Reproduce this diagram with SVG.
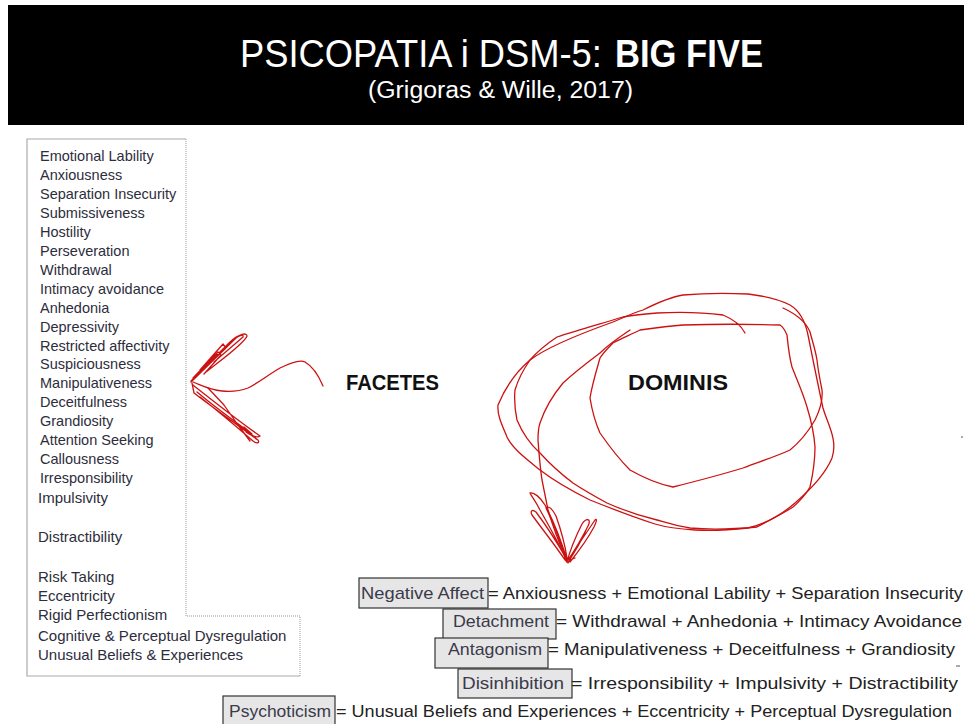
<svg xmlns="http://www.w3.org/2000/svg" width="964" height="724" viewBox="0 0 964 724">
  <style>
    .title { font-family: "Liberation Sans", "DejaVu Sans", sans-serif; fill: #ffffff; }
    .facet { font-family: "Liberation Sans", "DejaVu Sans", sans-serif; font-size: 14.5px; fill: #2d2d3c; }
    .facet2 { font-family: "Liberation Sans", "DejaVu Sans", sans-serif; font-size: 15px; fill: #2d2d3c; }
    .tag { font-family: "Liberation Sans", "DejaVu Sans", sans-serif; font-size: 22px; font-weight: bold; fill: #111111; }
    .lbl { font-family: "Liberation Sans", "DejaVu Sans", sans-serif; font-size: 17px; fill: #3a3a4a; }
    .eq { font-family: "Liberation Sans", "DejaVu Sans", sans-serif; font-size: 17px; fill: #222222; }
    .box { fill: #e6e6e6; stroke: #333333; stroke-width: 1.2; }
    .ink { fill: none; stroke: #cc1111; stroke-width: 1.3; stroke-linejoin: round; stroke-linecap: round; }
    .frame { fill: none; stroke: #aaaaaa; stroke-width: 1.2; }
    .dots { fill: none; stroke: #999999; stroke-width: 1; stroke-dasharray: 1 1; }
  </style>

  <!-- header bar -->
  <g id="header">
    <rect x="8" y="5" width="956" height="120" fill="#000000"/>
    <text class="title" x="240" y="67" font-size="38"><tspan textLength="372" lengthAdjust="spacingAndGlyphs">PSICOPATIA i DSM-5: </tspan><tspan x="615" font-weight="bold" textLength="148" lengthAdjust="spacingAndGlyphs">BIG FIVE</tspan></text>
    <text class="title" x="368" y="98" font-size="23" textLength="265" lengthAdjust="spacingAndGlyphs">(Grigoras &amp; Wille, 2017)</text>
  </g>

  <!-- list of facets -->
  <g id="facet-list">
    <path class="frame" d="M186,139 H27 V676 H300"/>
    <path class="dots" d="M186,139 V616 H300 V676"/>
    <text class="facet" x="40" y="161">Emotional Lability</text>
    <text class="facet" x="40" y="180">Anxiousness</text>
    <text class="facet" x="40" y="199">Separation Insecurity</text>
    <text class="facet" x="40" y="218">Submissiveness</text>
    <text class="facet" x="40" y="237">Hostility</text>
    <text class="facet" x="40" y="256">Perseveration</text>
    <text class="facet" x="40" y="275">Withdrawal</text>
    <text class="facet" x="40" y="294">Intimacy avoidance</text>
    <text class="facet" x="40" y="313">Anhedonia</text>
    <text class="facet" x="40" y="332">Depressivity</text>
    <text class="facet" x="40" y="351">Restricted affectivity</text>
    <text class="facet" x="40" y="369">Suspiciousness</text>
    <text class="facet" x="40" y="388">Manipulativeness</text>
    <text class="facet" x="40" y="407">Deceitfulness</text>
    <text class="facet" x="40" y="426">Grandiosity</text>
    <text class="facet" x="40" y="445">Attention Seeking</text>
    <text class="facet" x="40" y="464">Callousness</text>
    <text class="facet" x="40" y="483">Irresponsibility</text>
    <text class="facet2" x="38" y="503">Impulsivity</text>
    <text class="facet2" x="38" y="542">Distractibility</text>
    <text class="facet2" x="38" y="582">Risk Taking</text>
    <text class="facet2" x="38" y="601">Eccentricity</text>
    <text class="facet2" x="38" y="620">Rigid Perfectionism</text>
    <text class="facet2" x="38" y="641">Cognitive &amp; Perceptual Dysregulation</text>
    <text class="facet2" x="38" y="660">Unusual Beliefs &amp; Experiences</text>
  </g>

  <!-- section labels -->
  <g id="facetes">
    <text class="tag" x="346" y="390" textLength="93" lengthAdjust="spacingAndGlyphs">FACETES</text>
  </g>
  <g id="dominis">
    <text class="tag" x="628" y="390" textLength="100" lengthAdjust="spacingAndGlyphs">DOMINIS</text>
  </g>

  <!-- hand-drawn strokes -->
  <g id="connectors">
    <!-- arrow towards the facet list -->
    <path class="ink" d="M193,382 C203,386 210,390 222,391 C232,392 240,391 248,388 C258,383 268,375 280,368 C290,363 300,359 305,362 C312,366 318,374 323,386"/>
    <path class="ink" d="M191,381 L230,342 C238,334 247,332 247,336 C245,342 228,355 215,365 L206,372 M192,380 L226,348 L223,344 L200,370 M193,378 L218,352 L221,355 L204,374 M191,382 L236,338 C240,335 244,334 243,337 L214,362"/>
    <path class="ink" d="M192,383 L194,393 C212,407 236,424 258,440 C260,443 257,444 253,441 C238,428 218,411 200,397 M193,385 C212,400 236,419 260,436 C258,438 252,436 246,432 M208,388 L224,405 L238,425 L250,441 M197,392 C216,408 234,421 252,434 L244,427"/>

    <!-- loops round the domain label -->
    <path class="ink" d="M748,294 C765,296 778,299 790,305 C800,311 805,320 808,335 C813,360 818,385 823,408 C828,425 838,440 832,458 C825,475 810,490 795,503 C780,516 765,524 748,528 C730,530 712,531 695,530 C678,529 665,527 655,524 C630,516 610,508 590,500 C570,490 553,480 540,470 C525,458 512,448 507,437 C502,425 497,415 498,405 C505,388 516,372 530,360 C550,345 585,332 613,322 C625,317 633,313 643,310 C657,303 670,297 683,295 C705,293 728,293 748,294"/>
    <path class="ink" d="M745,333 C742,327 735,320 723,315 C700,312 678,312 657,313 C645,314 633,315 623,317 C600,324 578,330 557,337 C545,345 537,352 530,360 C523,370 518,380 515,390 C514,400 515,410 517,420 C522,432 530,444 540,453 C550,464 561,474 573,483 C585,491 596,497 607,503 C625,511 640,516 657,520 C668,523 678,526 690,528 C712,530 735,529 757,527 C770,520 782,514 793,507 C800,501 806,494 810,487 C813,474 815,460 815,447 C814,432 811,420 807,407 C803,393 797,380 792,367 C789,356 788,345 787,335 C785,330 783,327 780,325 C748,324 715,324 683,325 C668,326 654,328 640,330 C630,335 620,339 613,343 C608,348 603,353 600,358 C596,372 592,385 590,398 C592,410 595,422 600,433 C609,446 619,459 630,470 C644,478 658,484 673,487 C697,481 720,475 743,468 C758,462 775,457 790,450 C800,442 808,432 815,420 C820,410 823,400 822,390 C820,380 818,370 817,360 C815,348 812,340 810,332 C806,322 796,314 783,308"/>
    <path class="ink" d="M630,330 C618,338 608,345 600,353 C588,362 575,372 563,383 C553,395 545,408 540,423 C538,429 538,435 538,440 C539,453 540,467 542,480 C544,490 546,500 548,510 C553,527 560,545 567,562"/>
    <!-- arrow tip below the loops -->
    <path class="ink" d="M567,562 C560,545 548,524 540,510 C535,500 530,494 530,493 C534,492 540,497 545,505 C553,520 561,540 567,560 M565,560 C555,545 543,530 532,515 C530,511 532,509 536,512 C548,528 558,544 566,558 M566,561 C560,540 552,520 546,508 C549,505 553,510 556,516 C561,530 565,545 567,558 M567,562 C570,550 576,536 582,524 C586,518 592,518 588,526 C582,538 575,550 568,560 M569,560 C578,545 588,530 595,520 C597,518 597,521 594,527 C587,540 578,552 570,562 M568,563 C572,555 580,545 586,530 M570,560 L575,558"/>
  </g>

  <!-- domain formulas -->
  <g id="negative-affect">
    <rect class="box" x="359" y="578" width="129" height="30"/>
    <text class="lbl" x="361" y="599" textLength="123" lengthAdjust="spacingAndGlyphs">Negative Affect</text>
  </g>
  <text class="eq" x="488" y="599" textLength="475" lengthAdjust="spacingAndGlyphs">= Anxiousness + Emotional Lability + Separation Insecurity</text>

  <g id="detachment">
    <rect class="box" x="443" y="609" width="113" height="30"/>
    <text class="lbl" x="453" y="627" textLength="96" lengthAdjust="spacingAndGlyphs">Detachment</text>
  </g>
  <text class="eq" x="556" y="627" textLength="406" lengthAdjust="spacingAndGlyphs">= Withdrawal + Anhedonia + Intimacy Avoidance</text>

  <g id="antagonism">
    <rect class="box" x="435" y="638" width="113" height="30"/>
    <text class="lbl" x="448" y="655" textLength="94" lengthAdjust="spacingAndGlyphs">Antagonism</text>
  </g>
  <text class="eq" x="548" y="655" textLength="407" lengthAdjust="spacingAndGlyphs">= Manipulativeness + Deceitfulness + Grandiosity</text>

  <g id="disinhibition">
    <rect class="box" x="458" y="669" width="114" height="29"/>
    <text class="lbl" x="462" y="689" textLength="102" lengthAdjust="spacingAndGlyphs">Disinhibition</text>
  </g>
  <text class="eq" x="571" y="689" textLength="387" lengthAdjust="spacingAndGlyphs">= Irresponsibility + Impulsivity + Distractibility</text>

  <g id="psychoticism">
    <rect class="box" x="223" y="696" width="112" height="30"/>
    <text class="lbl" x="229" y="717" textLength="102" lengthAdjust="spacingAndGlyphs">Psychoticism</text>
  </g>
  <text class="eq" x="336" y="717" textLength="616" lengthAdjust="spacingAndGlyphs">= Unusual Beliefs and Experiences + Eccentricity + Perceptual Dysregulation</text>

  <!-- stray marks at the right margin -->
  <path d="M961,437 H963 M956,666 H960" stroke="#555555" stroke-width="1"/>
</svg>
